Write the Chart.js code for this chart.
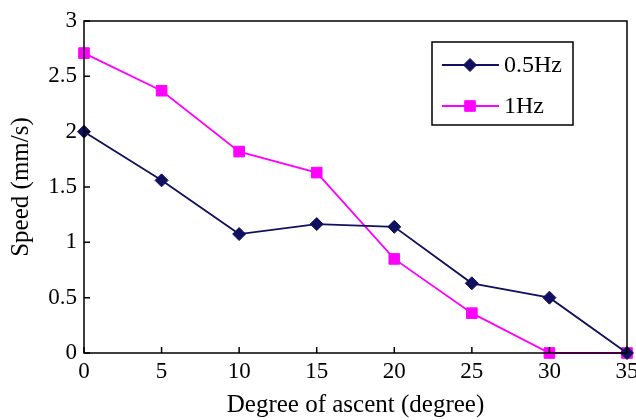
<!DOCTYPE html>
<html>
<head>
<meta charset="utf-8">
<script src="https://cdn.jsdelivr.net/npm/chart.js@4"></script>
<style>
  html, body { margin: 0; padding: 0; background: #fff; }
  #wrap { width: 636px; height: 420px; }
</style>
</head>
<body>
<div id="wrap"><canvas id="speedChart" width="636" height="420"></canvas></div>
<script>
const degrees = [0, 5, 10, 15, 20, 25, 30, 35];
const speed05Hz = [2.0, 1.56, 1.075, 1.165, 1.14, 0.63, 0.5, 0];
const speed1Hz = [2.71, 2.37, 1.82, 1.63, 0.85, 0.36, 0, 0];
const seriesNames = ['0.5Hz', '1Hz'];
const xTicks = [0, 5, 10, 15, 20, 25, 30, 35];
const yTicks = [0, 0.5, 1, 1.5, 2, 2.5, 3];

const FONT = 'Liberation Serif';
const NAVY = '#10105e';
const PINK = '#ff00ff';

// frame, inward ticks and legend box
const framePlugin = {
    id: 'frame',
    afterDraw(chart) {
        const { ctx, chartArea: a, scales } = chart;
        ctx.save();
        ctx.strokeStyle = '#000';
        ctx.lineWidth = 1.5;
        ctx.strokeRect(a.left, a.top, a.right - a.left, a.bottom - a.top);
        ctx.beginPath();
        xTicks.forEach(v => {
            const px = scales.x.getPixelForValue(v);
            ctx.moveTo(px, a.bottom);
            ctx.lineTo(px, a.bottom - 6);
        });
        yTicks.forEach(v => {
            const py = scales.y.getPixelForValue(v);
            ctx.moveTo(a.left, py);
            ctx.lineTo(a.left + 6, py);
        });
        ctx.stroke();

        // legend
        const bx = 432, by = 42, bw = 141, bh = 83;
        ctx.fillStyle = '#fff';
        ctx.fillRect(bx, by, bw, bh);
        ctx.strokeRect(bx, by, bw, bh);
        const rows = [65, 106];
        chart.data.datasets.forEach((ds, i) => {
            const y = rows[i];
            ctx.strokeStyle = ds.borderColor;
            ctx.fillStyle = ds.backgroundColor;
            ctx.lineWidth = ds.borderWidth;
            ctx.beginPath();
            ctx.moveTo(442, y);
            ctx.lineTo(499, y);
            ctx.stroke();
            ctx.lineWidth = 1;
            Chart.helpers.drawPoint(ctx, {
                pointStyle: ds.pointStyle, radius: ds.pointRadius, borderWidth: 1
            }, 470, y);
            ctx.fillStyle = '#000';
            ctx.font = '24px "' + FONT + '"';
            ctx.textBaseline = 'middle';
            ctx.fillText(ds.label, 504, y + 1);
        });
        ctx.restore();
    }
};

new Chart(document.getElementById('speedChart'), {
    type: 'line',
    data: {
        datasets: [
            {
                label: seriesNames[0],
                data: degrees.map((d, i) => ({ x: d, y: speed05Hz[i] })),
                borderColor: NAVY,
                backgroundColor: NAVY,
                borderWidth: 1.8,
                pointStyle: 'rectRot',
                pointRadius: 6.5,
                pointBorderWidth: 1,
                clip: false
            },
            {
                label: seriesNames[1],
                data: degrees.map((d, i) => ({ x: d, y: speed1Hz[i] })),
                borderColor: PINK,
                backgroundColor: PINK,
                borderWidth: 1.8,
                pointStyle: 'rect',
                pointRadius: 7.5,
                pointBorderWidth: 1,
                clip: false
            }
        ]
    },
    options: {
        responsive: false,
        animation: false,
        layout: { padding: { top: 21, right: 9, left: 0, bottom: 0 } },
        plugins: { legend: { display: false }, tooltip: { enabled: false } },
        scales: {
            x: {
                type: 'linear',
                min: 0, max: 35,
                afterBuildTicks: s => { s.ticks = xTicks.map(v => ({ value: v })); },
                afterFit: s => { s.height = 67; s.paddingLeft = 0; s.paddingRight = 0; },
                grid: { display: false, drawTicks: false },
                border: { display: false },
                ticks: { color: '#000', font: { family: FONT, size: 23 }, padding: 5, maxRotation: 0,
                         callback: v => String(v) },
                title: { display: true, text: 'Degree of ascent (degree)', color: '#000',
                         font: { family: FONT, size: 25 }, padding: { top: 0, bottom: 0 } }
            },
            y: {
                min: 0, max: 3,
                afterBuildTicks: s => { s.ticks = yTicks.map(v => ({ value: v })); },
                afterFit: s => { s.width = 84; s.paddingTop = 0; s.paddingBottom = 0; },
                grid: { display: false, drawTicks: false },
                border: { display: false },
                ticks: { color: '#000', font: { family: FONT, size: 23 }, padding: 7,
                         callback: v => String(v) },
                title: { display: true, text: 'Speed (mm/s)', color: '#000',
                         font: { family: FONT, size: 25 }, padding: { top: 6, bottom: 0 } }
            }
        }
    },
    plugins: [framePlugin]
});
</script>
</body>
</html>
